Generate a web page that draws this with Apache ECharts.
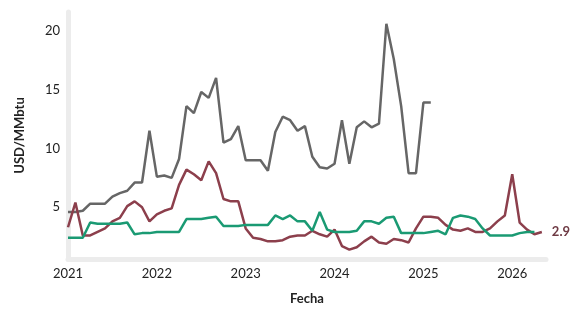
<!DOCTYPE html>
<html>
<head>
<meta charset="utf-8">
<script src="https://cdn.jsdelivr.net/npm/echarts@6/dist/echarts.min.js"></script>
<style>
  html, body { margin: 0; padding: 0; background: #fff; }
  #chart { width: 575px; height: 314px; }
</style>
</head>
<body>
<div id="chart"></div>
<script>
// series are monthly, starting at January 2021
var startYear = 2021;
var yearTicks = [2021, 2022, 2023, 2024, 2025, 2026];
var valueTicks = [5, 10, 15, 20];

var grayValues = [
  4.6, 4.6, 4.7, 5.3, 5.3, 5.3, 5.9, 6.2, 6.4, 7.1, 7.1, 11.5,
  7.6, 7.7, 7.5, 9.1, 13.6, 13.0, 14.8, 14.3, 16.0, 10.5, 10.8, 11.9,
  9.0, 9.0, 9.0, 8.1, 11.4, 12.7, 12.4, 11.5, 11.9, 9.3, 8.4, 8.3,
  8.7, 12.4, 8.7, 11.8, 12.3, 11.8, 12.1, 20.6, 17.6, 13.6, 7.9, 7.9,
  13.9, 13.9
];
var maroonValues = [
  3.3, 5.4, 2.6, 2.6, 2.9, 3.2, 3.8, 4.1, 5.1, 5.5, 5.0, 3.8,
  4.4, 4.7, 4.9, 6.9, 8.2, 7.8, 7.3, 8.9, 7.9, 5.7, 5.5, 5.5,
  3.2, 2.4, 2.3, 2.1, 2.1, 2.2, 2.5, 2.6, 2.6, 3.0, 2.7, 2.5,
  3.1, 1.7, 1.4, 1.6, 2.1, 2.5, 2.0, 1.9, 2.3, 2.2, 2.0, 3.2,
  4.2, 4.2, 4.1, 3.5, 3.1, 3.0, 3.2, 2.9, 2.9, 3.2, 3.8, 4.3,
  7.8, 3.7, 3.1, 2.7, 2.9
];
var greenValues = [
  2.4, 2.4, 2.4, 3.7, 3.6, 3.6, 3.6, 3.6, 3.7, 2.7, 2.8, 2.8,
  2.9, 2.9, 2.9, 2.9, 4.0, 4.0, 4.0, 4.1, 4.2, 3.4, 3.4, 3.4,
  3.5, 3.5, 3.5, 3.5, 4.3, 4.0, 4.3, 3.8, 3.8, 3.0, 4.6, 3.1,
  2.9, 2.9, 2.9, 3.0, 3.8, 3.8, 3.6, 4.1, 4.2, 2.8, 2.8, 2.8,
  2.8, 2.9, 3.0, 2.7, 4.1, 4.3, 4.2, 4.0, 3.2, 2.6, 2.6, 2.6,
  2.6, 2.8, 2.9, 2.9
];

function toPoints(arr) {
  return arr.map(function (v, i) {
    return [startYear + i / 12, v];
  });
}

var font = "Lato, 'Open Sans', sans-serif";
var chart = echarts.init(document.getElementById("chart"));

function lineSerie(name, color, values) {
  return {
    name: name,
    type: "line",
    symbol: "none",
    lineStyle: { color: color, width: 2.5 },
    itemStyle: { color: color },
    data: toPoints(values),
    animation: false
  };
}

var maroon = lineSerie("maroon", "#8c3f4c", maroonValues);
maroon.endLabel = {
  show: true,
  formatter: function (p) { return p.value[1].toFixed(1); },
  color: "#6e3a44",
  fontWeight: "bold",
  fontSize: 13,
  fontFamily: font,
  distance: 10
};

var option = {
  grid: { left: 68, right: 29, top: 12, bottom: 55 },
  xAxis: {
    type: "value",
    min: 2021,
    max: 2026.38,
    interval: 1,
    name: "Fecha",
    nameLocation: "middle",
    nameGap: 33,
    nameTextStyle: { fontFamily: font, fontWeight: "bold", fontSize: 13, color: "#222" },
    axisLine: { show: true, lineStyle: { color: "#ececec", width: 5 } },
    axisTick: { show: false },
    splitLine: { show: false },
    axisLabel: {
      customValues: yearTicks,
      fontFamily: font,
      fontSize: 13,
      color: "#222",
      margin: 8,
      formatter: function (v) { return String(Math.round(v)); }
    }
  },
  yAxis: {
    type: "value",
    min: 0.6,
    max: 21.6,
    name: "USD/MMbtu",
    nameLocation: "middle",
    nameGap: 42,
    nameRotate: 90,
    nameTextStyle: { fontFamily: font, fontWeight: "bold", fontSize: 13, color: "#222" },
    axisLine: { show: true, lineStyle: { color: "#ececec", width: 5 } },
    axisTick: { show: false },
    splitLine: { show: false },
    axisLabel: {
      customValues: valueTicks,
      fontFamily: font,
      fontSize: 13,
      color: "#222",
      margin: 8
    }
  },
  series: [
    lineSerie("gray", "#666666", grayValues),
    maroon,
    lineSerie("green", "#1a9a73", greenValues)
  ]
};

chart.setOption(option);
</script>
</body>
</html>
